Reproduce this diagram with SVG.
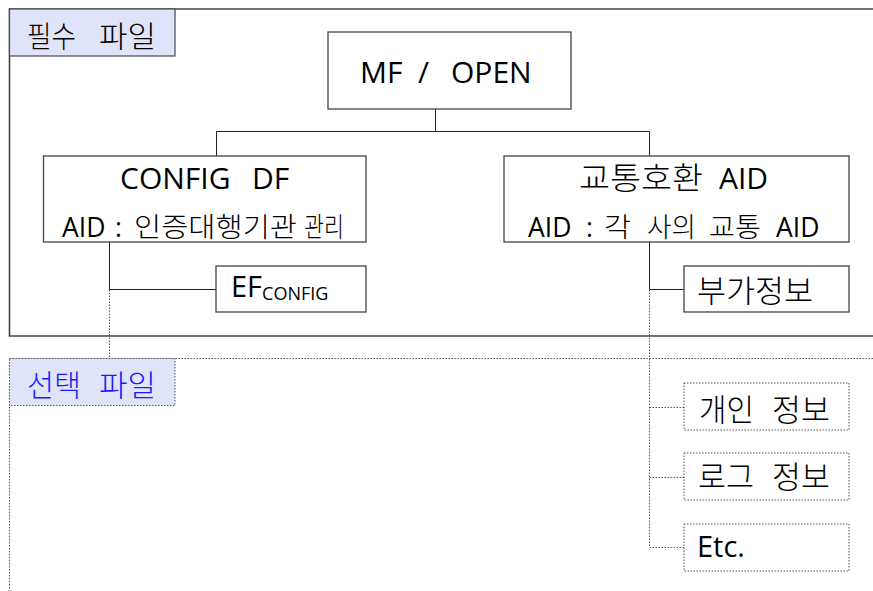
<svg xmlns="http://www.w3.org/2000/svg" width="873" height="591" viewBox="0 0 873 591">
<style>
text{font-family:"Open Sans","Noto Sans CJK KR",sans-serif;fill:#000;font-weight:400}
.kr{font-family:"Noto Sans CJK KR",sans-serif;font-weight:300}
.box{fill:#fff;stroke:#444;stroke-width:1.3}
.dbox{fill:#fff;stroke:#555;stroke-width:1;stroke-dasharray:1.5 1.5}
.frame{fill:none;stroke:#444;stroke-width:1.6}
.dframe{fill:none;stroke:#555;stroke-width:1;stroke-dasharray:1.5 1.5}
.conn{fill:none;stroke:#222;stroke-width:1}
.dconn{fill:none;stroke:#555;stroke-width:1;stroke-dasharray:1.5 1.5}
.t1{font-size:30px}
.t2{font-size:26.5px}
.k1{font-size:31px}
.k2{font-size:27.5px}
</style>
<rect width="873" height="591" fill="#fff"/>
<g id="frame-required">
<path class="frame" d="M873 9 H9.5 V336 H873"/>
<rect x="9.5" y="9" width="165.5" height="47" fill="#dfe4f8" stroke="#555" stroke-width="1.3"/>
<text class="kr" y="47" font-size="30"><tspan x="27" textLength="49" lengthAdjust="spacingAndGlyphs">필수</tspan> <tspan x="99" textLength="57" lengthAdjust="spacingAndGlyphs">파일</tspan></text>
</g>
<g id="frame-optional">
<path class="dframe" d="M873 358.5 H9.5 V591"/>
<rect x="9.5" y="358.5" width="165.5" height="47" fill="#dfe4f8" stroke="#555" stroke-width="1" stroke-dasharray="1.5 1.5"/>
<text class="kr" y="396" font-size="30" style="fill:#1a1aff"><tspan x="27" textLength="54" lengthAdjust="spacingAndGlyphs">선택</tspan> <tspan x="99" textLength="57" lengthAdjust="spacingAndGlyphs">파일</tspan></text>
</g>
<g id="connectors">
<path class="conn" d="M435.5 109 V131.5 M216.5 131.5 H649.5 M216.5 131.5 V156 M649.5 131.5 V156"/>
<path class="conn" d="M109.5 242 V289.5 H216"/>
<path class="conn" d="M649.5 242 V289.5 H684"/>
<path class="dconn" d="M109.5 289.5 V358"/>
<path class="dconn" d="M649.5 289.5 V547.5 H684 M649.5 407.5 H684 M649.5 477.5 H684"/>
</g>
<g id="node-mf">
<rect class="box" x="328" y="32" width="243" height="77"/>
<text class="t1" y="83"><tspan x="360">MF</tspan> <tspan x="418">/</tspan> <tspan x="451">OPEN</tspan></text>
</g>
<g id="node-config">
<rect class="box" x="43.5" y="156" width="322.5" height="86"/>
<text class="t1" y="189"><tspan x="120">CONFIG</tspan> <tspan x="252">DF</tspan></text>
<text class="t2" y="237"><tspan x="62">AID</tspan> <tspan x="115">:</tspan> <tspan class="kr k2" x="134" textLength="163" lengthAdjust="spacingAndGlyphs">인증대행기관</tspan> <tspan class="kr k2" x="304" textLength="40" lengthAdjust="spacingAndGlyphs">관리</tspan></text>
</g>
<g id="node-transit">
<rect class="box" x="504" y="156" width="345" height="86"/>
<text class="t1" y="189"><tspan class="kr k1" x="579" textLength="124" lengthAdjust="spacingAndGlyphs">교통호환</tspan> <tspan x="719">AID</tspan></text>
<text class="t2" y="237"><tspan x="528">AID</tspan> <tspan x="586">:</tspan> <tspan class="kr k2" x="604" textLength="27" lengthAdjust="spacingAndGlyphs">각</tspan> <tspan class="kr k2" x="647" textLength="49" lengthAdjust="spacingAndGlyphs">사의</tspan> <tspan class="kr k2" x="709" textLength="52" lengthAdjust="spacingAndGlyphs">교통</tspan> <tspan x="776">AID</tspan></text>
</g>
<g id="node-efconfig">
<rect class="box" x="216" y="266" width="150" height="46"/>
<text x="231" y="297" font-size="29">EF<tspan font-size="18" dy="3">CONFIG</tspan></text>
</g>
<g id="node-extra">
<rect class="box" x="684" y="266" width="165" height="46"/>
<text class="kr k1" x="697" y="302" textLength="116" lengthAdjust="spacingAndGlyphs">부가정보</text>
</g>
<g id="node-personal">
<rect class="dbox" x="684" y="383" width="165" height="47"/>
<text class="kr k1" y="421"><tspan x="699" textLength="55" lengthAdjust="spacingAndGlyphs">개인</tspan> <tspan x="772" textLength="58" lengthAdjust="spacingAndGlyphs">정보</tspan></text>
</g>
<g id="node-log">
<rect class="dbox" x="684" y="453" width="165" height="47"/>
<text class="kr k1" y="488"><tspan x="698" textLength="56" lengthAdjust="spacingAndGlyphs">로그</tspan> <tspan x="772" textLength="58" lengthAdjust="spacingAndGlyphs">정보</tspan></text>
</g>
<g id="node-etc">
<rect class="dbox" x="684" y="524" width="165" height="47"/>
<text x="697" y="557" font-size="29">Etc.</text>
</g>
</svg>
